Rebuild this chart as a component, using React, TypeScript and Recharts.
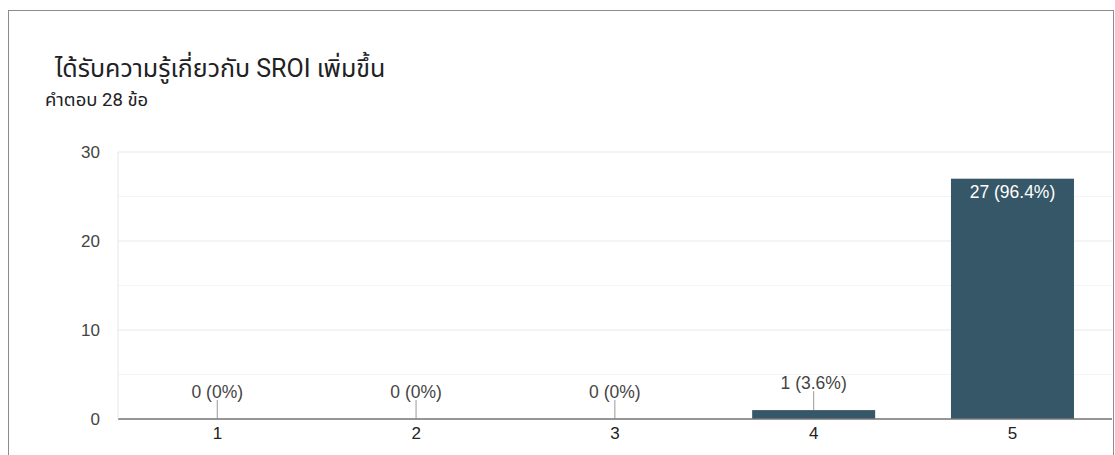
import React from "react";
import { BarChart, Bar, XAxis, YAxis, CartesianGrid } from "recharts";

const categories = ["1", "2", "3", "4", "5"];
const counts = [0, 0, 0, 1, 27];
const valueLabels = ["0 (0%)", "0 (0%)", "0 (0%)", "1 (3.6%)", "27 (96.4%)"];
const yTicks = [0, 5, 10, 15, 20, 25, 30];
const yLabelTicks = [0, 10, 20, 30];
const title = "ได้รับความรู้เกี่ยวกับ SROI เพิ่มขึ้น";
const subtitle = "คำตอบ 28 ข้อ";

const data = categories.map((c, i) => ({ name: c, value: counts[i], label: valueLabels[i] }));

const CHART_FONT = "'Liberation Sans', Arial, sans-serif";
const TEXT_FONT = "Roboto, 'Noto Sans', 'Noto Sans Thai', sans-serif";
const BAR_COLOR = "#355767";

const YTick = (props: any) => {
  const { y, payload } = props;
  if (!yLabelTicks.includes(payload.value)) return null;
  return (
    <text x={100} y={y} textAnchor="end" dominantBaseline="central" fontSize={17} fill="#444" fontFamily={CHART_FONT}>
      {payload.value}
    </text>
  );
};

const XTick = (props: any) => {
  const { x, y, payload } = props;
  return (
    <text x={x} y={y + 12} textAnchor="middle" fontSize={17} fill="#222" fontFamily={CHART_FONT}>
      {payload.value}
    </text>
  );
};

const BarShape = (props: any) => {
  const { x, y, width, height, payload, fill } = props;
  const cx = x + width / 2;
  const text = payload?.label ?? "";
  const h = Math.max(0, height || 0);
  if (h > 40) {
    return (
      <g>
        <rect x={x} y={y} width={width} height={h} fill={fill} />
        <text x={cx} y={y + 13} textAnchor="middle" dominantBaseline="central" fontSize={17.5} fill="#fff" fontFamily={CHART_FONT}>
          {text}
        </text>
      </g>
    );
  }
  return (
    <g>
      {h > 0 && <rect x={x} y={y} width={width} height={h} fill={fill} />}
      <line x1={cx} x2={cx} y1={y - 19} y2={y} stroke="#999" strokeWidth={1} />
      <text x={cx} y={y - 27} textAnchor="middle" dominantBaseline="central" fontSize={17.5} fill="#444" fontFamily={CHART_FONT}>
        {text}
      </text>
    </g>
  );
};

const gridLine = (props: any) => {
  const { x1, x2, y1, y2, index } = props;
  const major = index % 2 === 0;
  return <line key={`g${index}`} x1={x1} x2={x2} y1={y1} y2={y2} stroke={major ? "#e9e9e9" : "#f4f4f4"} strokeWidth={1} />;
};

export default function App() {
  return (
    <div style={{ position: "absolute", left: 0, top: 0, width: 1115, height: 455, overflow: "hidden", background: "#fff" }}>
      <div
        style={{
          position: "absolute",
          left: 8,
          top: 10,
          width: 1106,
          height: 520,
          border: "1px solid #8c8c8c",
          boxSizing: "border-box",
        }}
      />
      <div
        style={{
          position: "absolute",
          left: 55,
          top: 54,
          fontSize: 25,
          lineHeight: "30px",
          color: "#202124",
          fontFamily: TEXT_FONT,
          whiteSpace: "nowrap",
        }}
      >
        {title}
      </div>
      <div
        style={{
          position: "absolute",
          left: 45,
          top: 88,
          fontSize: 18.5,
          lineHeight: "24px",
          color: "#202124",
          fontFamily: TEXT_FONT,
          whiteSpace: "nowrap",
        }}
      >
        {subtitle}
      </div>
      <div style={{ position: "absolute", left: 0, top: 0 }}>
        <BarChart width={1115} height={455} data={data} margin={{ top: 152, right: 3, bottom: 6, left: 18 }} barCategoryGap="19%">
          <CartesianGrid vertical={false} horizontal={gridLine} />
          <XAxis
            dataKey="name"
            height={30}
            tickLine={false}
            axisLine={{ stroke: "#777", strokeWidth: 1.5 }}
            tick={<XTick />}
            interval={0}
          />
          <YAxis
            width={100}
            domain={[0, 30]}
            ticks={yTicks}
            tickLine={false}
            axisLine={{ stroke: "#e6e6e6" }}
            tick={<YTick />}
            interval={0}
          />
          <Bar dataKey="value" fill={BAR_COLOR} isAnimationActive={false} shape={<BarShape />} />
        </BarChart>
      </div>
    </div>
  );
}
